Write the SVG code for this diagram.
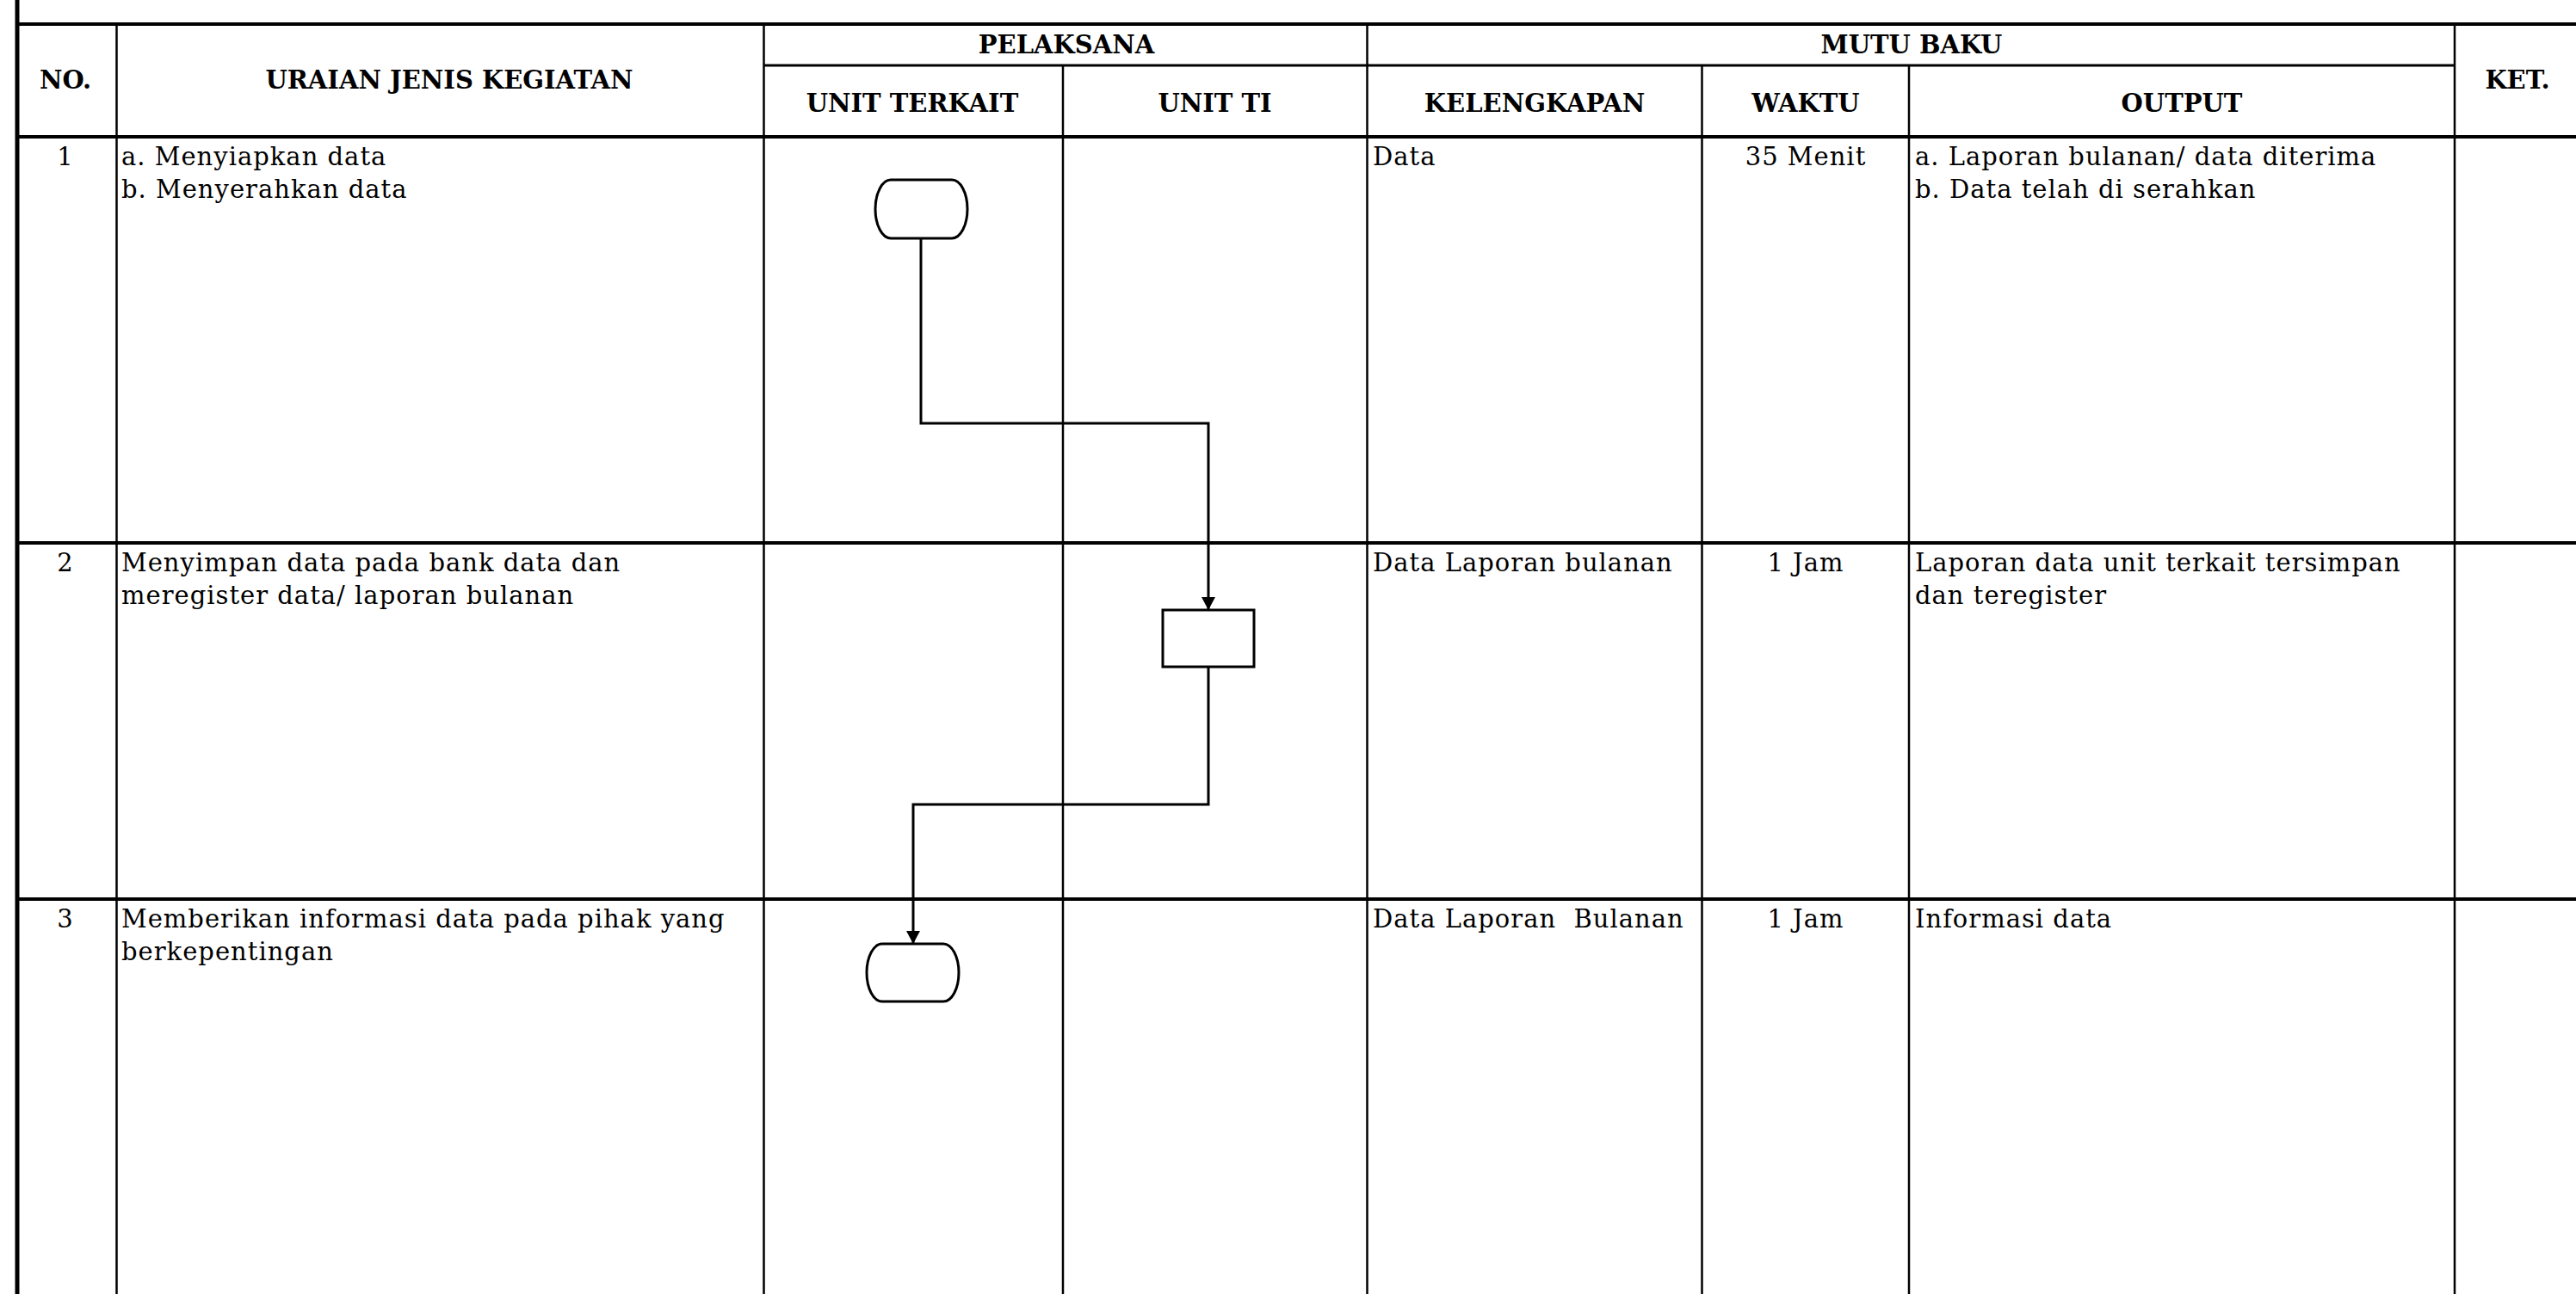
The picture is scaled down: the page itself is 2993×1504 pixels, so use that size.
<svg xmlns="http://www.w3.org/2000/svg" width="2993" height="1504" viewBox="0 0 2993 1504">
<style>
.h{font-family:"DejaVu Serif","Liberation Serif",serif;font-weight:bold;font-size:29px;text-anchor:middle;fill:#000}
.t{font-family:"DejaVu Serif","Liberation Serif",serif;font-size:29px;letter-spacing:1px;fill:#000}
.c{text-anchor:middle}
.hl{stroke:#000;stroke-width:4;fill:none}
.vl{stroke:#000;stroke-width:2.5;fill:none}
.shape{fill:#fff;stroke:#000;stroke-width:3}
.conn{fill:none;stroke:#000;stroke-width:3}
</style>
<defs>
<marker id="arr" markerWidth="16" markerHeight="16" refX="15" refY="8" orient="auto" markerUnits="userSpaceOnUse">
<path d="M0,0 L15,8 L0,16 z" fill="#000"/>
</marker>
</defs>
<rect width="2993" height="1504" fill="#fff"/>
<g id="grid">
<line class="hl" x1="18" y1="28" x2="2993" y2="28"/>
<line class="vl" style="stroke-width:3" x1="887" y1="76" x2="2852" y2="76"/>
<line class="hl" x1="18" y1="159" x2="2993" y2="159"/>
<line class="hl" x1="18" y1="631" x2="2993" y2="631"/>
<line class="hl" x1="18" y1="1045" x2="2993" y2="1045"/>
<line x1="20" y1="0" x2="20" y2="1504" stroke="#000" stroke-width="5"/>
<line class="vl" x1="135.5" y1="28" x2="135.5" y2="1504"/>
<line class="vl" x1="887.5" y1="28" x2="887.5" y2="1504"/>
<line class="vl" x1="1235" y1="76" x2="1235" y2="1504"/>
<line class="vl" x1="1588.5" y1="28" x2="1588.5" y2="1504"/>
<line class="vl" x1="1977.5" y1="76" x2="1977.5" y2="1504"/>
<line class="vl" x1="2218" y1="76" x2="2218" y2="1504"/>
<line class="vl" x1="2852" y1="28" x2="2852" y2="1504"/>
</g>
<g id="headers">
<text class="h" x="76" y="103">NO.</text>
<text class="h" x="522" y="103">URAIAN JENIS KEGIATAN</text>
<text class="h" x="1239" y="62">PELAKSANA</text>
<text class="h" x="2221" y="62">MUTU BAKU</text>
<text class="h" x="2925" y="103">KET.</text>
<text class="h" x="1060" y="130">UNIT TERKAIT</text>
<text class="h" x="1411.5" y="130">UNIT TI</text>
<text class="h" x="1783" y="130">KELENGKAPAN</text>
<text class="h" x="2098" y="130">WAKTU</text>
<text class="h" x="2535" y="130">OUTPUT</text>
</g>
<g id="row1">
<text class="t c" x="76" y="192">1</text>
<text class="t" x="141" y="192">a. Menyiapkan data</text>
<text class="t" x="141" y="230">b. Menyerahkan data</text>
<text class="t" x="1595" y="192">Data</text>
<text class="t c" x="2098" y="192">35 Menit</text>
<text class="t" x="2225" y="192">a. Laporan bulanan/ data diterima</text>
<text class="t" x="2225" y="230">b. Data telah di serahkan</text>
</g>
<g id="row2">
<text class="t c" x="76" y="664">2</text>
<text class="t" x="141" y="664">Menyimpan data pada bank data dan</text>
<text class="t" x="141" y="702">meregister data/ laporan bulanan</text>
<text class="t" x="1595" y="664">Data Laporan bulanan</text>
<text class="t c" x="2098" y="664">1 Jam</text>
<text class="t" x="2225" y="664">Laporan data unit terkait tersimpan</text>
<text class="t" x="2225" y="702">dan teregister</text>
</g>
<g id="row3">
<text class="t c" x="76" y="1078">3</text>
<text class="t" x="141" y="1078">Memberikan informasi data pada pihak yang</text>
<text class="t" x="141" y="1116">berkepentingan</text>
<text class="t" x="1595" y="1078" xml:space="preserve">Data Laporan  Bulanan</text>
<text class="t c" x="2098" y="1078">1 Jam</text>
<text class="t" x="2225" y="1078">Informasi data</text>
</g>
<g id="connectors">
<path class="conn" d="M1070,277 V492 H1404 V709" marker-end="url(#arr)"/>
<path class="conn" d="M1404,775 V935 H1061 V1097" marker-end="url(#arr)"/>
</g>
<g id="start">
<rect class="shape" x="1017" y="209" width="107" height="68" rx="18" ry="34"/>
</g>
<g id="process">
<rect class="shape" x="1351" y="709" width="106" height="66"/>
</g>
<g id="end">
<rect class="shape" x="1007" y="1097" width="107" height="67" rx="18" ry="33.5"/>
</g>
</svg>
